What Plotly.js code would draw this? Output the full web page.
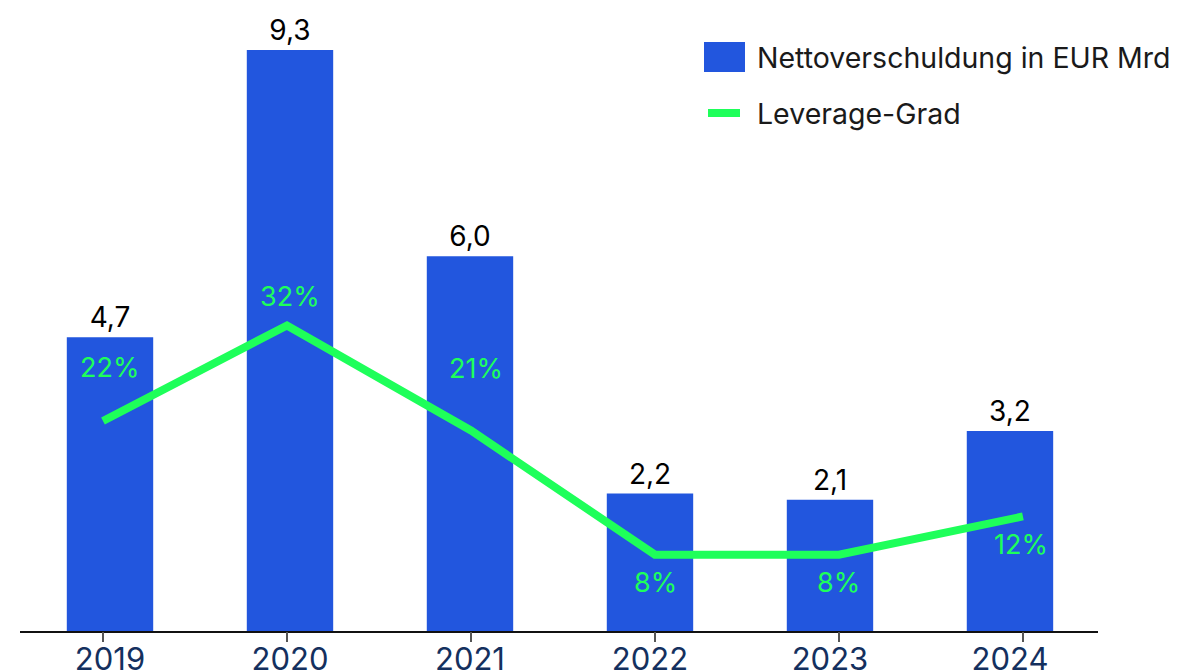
<!DOCTYPE html>
<html>
<head>
<meta charset="utf-8">
<script src="https://cdn.plot.ly/plotly-3.0.1.min.js"></script>
<style>html,body{margin:0;padding:0;background:#fff;}#chart{width:1197px;height:671px;}</style>
</head>
<body>
<div id="chart"></div>
<script>
// ---- data ----
const years = ["2019", "2020", "2021", "2022", "2023", "2024"];
const netDebt = [4.7, 9.3, 6.0, 2.2, 2.1, 3.2];
const netDebtLabels = ["4,7", "9,3", "6,0", "2,2", "2,1", "3,2"];
const leverage = [22, 32, 21, 8, 8, 12];
const leverageLabels = ["22%", "32%", "21%", "8%", "8%", "12%"];
const seriesNames = ["Nettoverschuldung in EUR Mrd", "Leverage-Grad"];

// ---- style ----
const BLUE = "#2256de";
const GREEN = "#1eff5a";
const NAVY = "#14305e";
const FONT = "Inter, 'Noto Sans', sans-serif";
const W = 1197, H = 671;
const M = {l: 20, r: 99, t: 20, b: 40};
const pw = W - M.l - M.r, ph = H - M.t - M.b;
const px = x => (x - M.l) / pw;
const py = y => (H - M.b - y) / ph;
const labelShift = [53, 29, 62, -28, -28, -28];
const labelDx = [7, 3, 5, 1, 0, -2];

const bars = {
  type: "bar", x: years, y: netDebt, name: seriesNames[0],
  marker: {color: BLUE, line: {width: 0}}, width: 0.48,
  text: netDebtLabels, textposition: "outside", cliponaxis: false, constraintext: "none",
  textfont: {family: FONT, size: 28, color: "#000"},
  xaxis: "x", yaxis: "y", hoverinfo: "skip"
};
const line = {
  type: "scatter", mode: "lines", x: years, y: leverage, name: seriesNames[1],
  line: {color: GREEN, width: 8, shape: "linear"},
  xaxis: "x2", yaxis: "y2", hoverinfo: "skip"
};

const annotations = years.map((yr, i) => ({
  x: i, y: leverage[i], xref: "x2", yref: "y2",
  text: leverageLabels[i], showarrow: false,
  yshift: labelShift[i], xshift: labelDx[i],
  xanchor: "center", yanchor: "middle",
  font: {family: FONT, size: 27, color: GREEN}
}));
annotations.push(
  {x: px(755), y: py(57), xref: "paper", yref: "paper", xanchor: "left", yanchor: "middle",
   text: seriesNames[0], showarrow: false, font: {family: FONT, size: 28.5, color: "#1a1a1a"}},
  {x: px(755), y: py(113), xref: "paper", yref: "paper", xanchor: "left", yanchor: "middle",
   text: seriesNames[1], showarrow: false, font: {family: FONT, size: 28.5, color: "#1a1a1a"}}
);

const shapes = [
  {type: "rect", xref: "paper", yref: "paper", x0: px(704), x1: px(745), y0: py(72), y1: py(42),
   fillcolor: BLUE, line: {width: 0}},
  {type: "line", xref: "paper", yref: "paper", x0: px(708), x1: px(740), y0: py(113), y1: py(113),
   line: {color: GREEN, width: 8}}
];

const layout = {
  width: W, height: H, margin: M,
  paper_bgcolor: "#fff", plot_bgcolor: "#fff",
  showlegend: false,
  font: {family: FONT},
  xaxis: {type: "category", range: [-0.5, 5.489], showgrid: false, zeroline: false,
          showline: true, linecolor: "#111", linewidth: 1.5, ticks: "",
          tickfont: {family: FONT, size: 31, color: NAVY}, fixedrange: true},
  xaxis2: {type: "category", overlaying: "x", anchor: "y", side: "bottom",
           range: [-0.451, 5.408], showgrid: false, zeroline: false, showline: false,
           ticks: "outside", ticklen: 10, tickwidth: 2, tickcolor: "#555",
           showticklabels: false, fixedrange: true},
  yaxis: {range: [0, 9.78], visible: false, showgrid: false, zeroline: false, fixedrange: true},
  yaxis2: {range: [0, 64], overlaying: "y", visible: false, showgrid: false, zeroline: false, fixedrange: true},
  annotations: annotations, shapes: shapes
};

Plotly.newPlot("chart", [bars, line], layout, {displayModeBar: false, staticPlot: true});
</script>
</body>
</html>
